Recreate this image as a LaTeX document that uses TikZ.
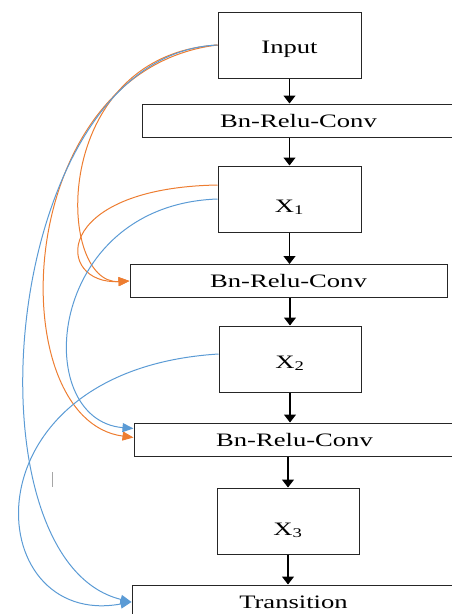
\documentclass[tikz,border=0pt]{standalone}
\usepackage{fontspec}
\setmainfont{Liberation Serif}
\newfontfamily\boxfont[FakeStretch=1.4]{Liberation Serif}
\usetikzlibrary{arrows.meta}
\definecolor{linkorange}{HTML}{ED7D31}
\definecolor{linkblue}{HTML}{5B9BD5}
\definecolor{bk85}{HTML}{262626}
\tikzset{
  featbox/.style={
    rectangle, draw=bk85, line width=1pt,
    minimum width=143pt, minimum height=66pt,
    inner sep=0pt, font=\boxfont\fontsize{19}{22}\selectfont
  },
  layerbox/.style={
    featbox, minimum width=#1, minimum height=33pt
  },
  layerbox/.default=317pt,
  flowarrow/.style={
    -{Triangle[length=8pt,width=12pt]}, line width=1.2pt, color=black
  },
  skiplink/.style={
    -{Triangle[length=11pt,width=9pt]}, line width=1pt, color=#1
  },
  skiplink/.default=linkblue,
}
% lowered label inside a feature box
\newcommand{\lowtext}[2]{\raisebox{#1}[0pt][0pt]{#2}}

\begin{document}
\begin{tikzpicture}[x=1pt,y=-1pt]
  \useasboundingbox (0,0) rectangle (451,614);

  \node[featbox] (in) at (289.5,45) {\lowtext{-8pt}{Input}};
  \node[layerbox=313pt] (brc1) at (298.5,120.5) {Bn-Relu-Conv};
  \node[featbox] (x1) at (289.5,199) {\lowtext{-13pt}{X\textsubscript{1}}};
  \node[layerbox=317pt] (brc2) at (288.5,281) {Bn-Relu-Conv};
  \node[featbox, minimum width=142pt] (x2) at (290,359) {\lowtext{-9pt}{X\textsubscript{2}}};
  \node[layerbox=321pt] (brc3) at (294.5,439.5) {Bn-Relu-Conv};
  \node[featbox, minimum width=142pt] (x3) at (288,521) {\lowtext{-14pt}{X\textsubscript{3}}};
  \node[layerbox=323pt, minimum height=34pt] (trans) at (293.5,602) {Transition};

  \draw[flowarrow] (in.south) -- (in.south |- brc1.north);
  \draw[flowarrow] (x1.north |- brc1.south) -- (x1.north);
  \draw[flowarrow] (x1.south) -- (x1.south |- brc2.north);
  \draw[flowarrow] (x2.north |- brc2.south) -- (x2.north);
  \draw[flowarrow] (x2.south) -- (x2.south |- brc3.north);
  \draw[flowarrow] (x3.north |- brc3.south) -- (x3.north);
  \draw[flowarrow] (x3.south) -- (x3.south |- trans.north);

  % dense links from Input
  \draw[skiplink=linkorange] (in.west) .. controls (50,55) and (55,285) .. (brc2.west);
  \draw[skiplink=linkorange] (in.west) .. controls (10,70) and (0,420) .. ([yshift=2pt]brc3.west);
  \draw[skiplink] (in.west) .. controls (0,55) and (-40,560) .. (trans.west);

  % dense links from X1 and X2
  \draw[skiplink=linkorange] ([yshift=14pt]x1.west) .. controls (50,188) and (55,285) .. (brc2.west);
  \draw[skiplink] (x1.west) .. controls (45,205) and (30,420) .. ([yshift=11pt]brc3.west);
  \draw[skiplink] ([yshift=5pt]x2.west) .. controls (-40,370) and (-20,630) .. (trans.west);

  \draw[gray!70, line width=0.6pt] (52,472) -- (52,487);
\end{tikzpicture}
\end{document}
